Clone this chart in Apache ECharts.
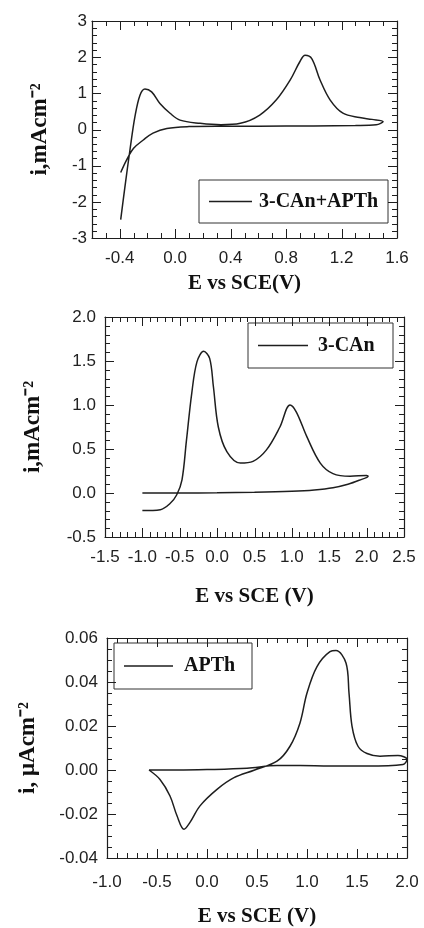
<!DOCTYPE html>
<html>
<head>
<meta charset="utf-8">
<script src="https://cdn.jsdelivr.net/npm/echarts@6/dist/echarts.min.js"></script>
<style>
  html, body { margin: 0; padding: 0; background: #fff; }
  #main { width: 424px; height: 928px; }
</style>
</head>
<body>
<div id="main"></div>
<script>
// 3-CAn+APTh 循环伏安曲线 (E / V, i / mA cm^-2)
var mixE = [-0.393, -0.362, -0.326, -0.29, -0.254, -0.218, -0.17, -0.11, -0.037, 0.035, 0.18, 0.33, 0.47, 0.61, 0.73, 0.83, 0.90, 0.937, 0.985, 1.045, 1.117, 1.21, 1.33, 1.42, 1.50,
            1.45, 1.30, 1.0, 0.6, 0.3, 0.1, -0.06, -0.16, -0.23, -0.30, -0.35, -0.393];
var mixI = [-2.49, -1.57, -0.56, 0.36, 0.95, 1.12, 1.04, 0.72, 0.45, 0.26, 0.17, 0.13, 0.17, 0.40, 0.82, 1.37, 1.88, 2.05, 1.96, 1.37, 0.82, 0.45, 0.33, 0.28, 0.22,
            0.13, 0.11, 0.10, 0.09, 0.09, 0.08, 0.03, -0.10, -0.29, -0.52, -0.84, -1.19];

// 3-CAn
var canE = [-1.0, -0.76, -0.63, -0.54, -0.47, -0.41, -0.34, -0.27, -0.18, -0.10, -0.05, 0.016, 0.13, 0.31, 0.48, 0.66, 0.84, 0.975, 1.06, 1.2, 1.38, 1.55, 1.78, 2.0,
            2.02, 1.9, 1.75, 1.55, 1.3, 1.0, 0.5, 0.0, -0.5, -1.0];
var canI = [-0.20, -0.19, -0.12, -0.02, 0.15, 0.60, 1.13, 1.49, 1.61, 1.53, 1.21, 0.75, 0.47, 0.34, 0.36, 0.49, 0.75, 1.0, 0.92, 0.64, 0.34, 0.22, 0.19, 0.20,
            0.19, 0.145, 0.10, 0.06, 0.035, 0.02, 0.008, 0.002, 0.0, 0.0];

// APTh (E / V, i / uA cm^-2)
var apE = [-0.58, -0.47, -0.37, -0.30, -0.23, -0.17, -0.07, 0.10, 0.27, 0.47, 0.70, 0.83, 0.93, 1.0, 1.1, 1.23, 1.29, 1.39, 1.42, 1.45, 1.51, 1.60, 1.73, 1.91, 2.0,
           1.96, 1.6, 1.23, 0.93, 0.7, 0.4, 0.0, -0.3, -0.58];
var apI = [0.0, -0.0043, -0.0118, -0.0208, -0.0269, -0.0238, -0.0163, -0.0088, -0.0035, -0.0001, 0.0040, 0.0108, 0.0214, 0.035, 0.047, 0.0538, 0.0543, 0.0486, 0.035, 0.020, 0.0108, 0.0075, 0.0063, 0.0066, 0.0048,
           0.0025, 0.0018, 0.0018, 0.002, 0.002, 0.0008, 0.0002, 0.0, 0.0];

var legendNames = ['3-CAn+APTh', '3-CAn', 'APTh'];

function pairs(xs, ys) {
    var out = [];
    for (var i = 0; i < xs.length; i++) out.push([xs[i], ys[i]]);
    return out;
}

// 刻度值 (不含边框两端)
function steps(min, max, step) {
    var out = [];
    var a = Math.round(min / step), b = Math.round(max / step);
    for (var k = a; k <= b; k++) {
        var v = +(k * step).toFixed(6);
        if (Math.abs(v - min) > step / 100 && Math.abs(v - max) > step / 100) out.push(v);
    }
    return out;
}

var ink = '#1e1e1e';
var tickFont = { fontFamily: 'Liberation Sans', fontSize: 17, color: '#222' };

function base(g, min, max, interval, extra) {
    return Object.assign({
        type: 'value', gridIndex: g, min: min, max: max, interval: interval,
        axisLine: { show: true, onZero: false, lineStyle: { color: ink, width: 1.2 } },
        axisTick: { show: false },
        minorTick: { show: false },
        splitLine: { show: false },
        minorSplitLine: { show: false }
    }, extra);
}

function xName(name, gap) {
    return {
        name: name, nameLocation: 'middle', nameGap: gap,
        nameTextStyle: { fontFamily: 'Liberation Serif', fontWeight: 'bold', fontSize: 21, color: '#111' }
    };
}
function yName(name, gap) {
    return {
        name: name, nameLocation: 'middle', nameGap: gap, nameRotate: 90,
        nameTextStyle: { fontFamily: 'Liberation Serif', fontWeight: 'bold', fontSize: 23, color: '#111' }
    };
}
function labels(margin, fmt) {
    return { axisLabel: Object.assign({ show: true, margin: margin, formatter: fmt }, tickFont) };
}
var noLabel = { axisLabel: { show: false } };

var fmt04 = function (v) {
    var k = Math.round(v * 10);
    return (k % 4 === 0) ? (k / 10).toFixed(1) : '';
};
var fmt1 = function (v) { return v.toFixed(1); };
var fmt2 = function (v) { return v.toFixed(2); };

var xAxes = [
    base(0, -0.6, 1.6, 0.2, Object.assign({ position: 'bottom' }, xName('E vs SCE(V)', 35), labels(12, fmt04))),
    base(0, -0.6, 1.6, 0.2, Object.assign({ position: 'top' }, noLabel)),
    base(1, -1.5, 2.5, 0.5, Object.assign({ position: 'bottom' }, xName('E vs SCE (V)', 49), labels(12, fmt1))),
    base(1, -1.5, 2.5, 0.5, Object.assign({ position: 'top' }, noLabel)),
    base(2, -1.0, 2.0, 0.5, Object.assign({ position: 'bottom' }, xName('E vs SCE (V)', 48), labels(16, fmt1))),
    base(2, -1.0, 2.0, 0.5, Object.assign({ position: 'top' }, noLabel))
];
var yAxes = [
    base(0, -3, 3, 1, Object.assign({ position: 'left' }, yName('i,mAcm\u207b\u00b2', 40), labels(5, function (v) { return String(v); }))),
    base(0, -3, 3, 1, Object.assign({ position: 'right' }, noLabel)),
    base(1, -0.5, 2.0, 0.5, Object.assign({ position: 'left' }, yName('i,mAcm\u207b\u00b2', 60), labels(9, fmt1))),
    base(1, -0.5, 2.0, 0.5, Object.assign({ position: 'right' }, noLabel)),
    base(2, -0.04, 0.06, 0.02, Object.assign({ position: 'left' }, yName('i, \u03bcAcm\u207b\u00b2', 67), labels(9, fmt2))),
    base(2, -0.04, 0.06, 0.02, Object.assign({ position: 'right' }, noLabel))
];

// 四边向内的刻度, 通过坐标轴比例尺换算
function tickSeries(xi, yi, xMaj, xMin, yMaj, yMin) {
    return {
        type: 'custom', xAxisIndex: xi, yAxisIndex: yi, silent: true, clip: false, z: 3,
        data: [[xMaj[0], yMaj[0]]],
        renderItem: function (params, api) {
            var cs = params.coordSys;
            var L = cs.x, T = cs.y, R = cs.x + cs.width, B = cs.y + cs.height;
            var kids = [];
            function add(x1, y1, x2, y2) {
                kids.push({ type: 'line', shape: { x1: x1, y1: y1, x2: x2, y2: y2 }, style: { stroke: ink, lineWidth: 1 } });
            }
            function xt(vals, len) {
                vals.forEach(function (v) {
                    var p = Math.round(api.coord([v, yMaj[0]])[0]) + 0.5;
                    add(p, B, p, B - len); add(p, T, p, T + len);
                });
            }
            function yt(vals, len) {
                vals.forEach(function (v) {
                    var p = Math.round(api.coord([xMaj[0], v])[1]) + 0.5;
                    add(L, p, L + len, p); add(R, p, R - len, p);
                });
            }
            xt(xMin, 5); xt(xMaj, 9); yt(yMin, 5); yt(yMaj, 9);
            return { type: 'group', children: kids };
        }
    };
}

// 图例框
function legendBox(name, x, y, w, h, lineW, textX) {
    return {
        type: 'group', children: [
            { type: 'rect', shape: { x: x, y: y, width: w, height: h }, style: { fill: '#fff', stroke: '#333', lineWidth: 1 } },
            { type: 'line', shape: { x1: x + 10, y1: y + h / 2, x2: x + 10 + lineW, y2: y + h / 2 }, style: { stroke: ink, lineWidth: 1.5 } },
            { type: 'text', x: textX, y: y + h / 2, style: { text: name, fill: '#111', font: 'bold 20px "Liberation Serif"', verticalAlign: 'middle', align: 'left' } }
        ]
    };
}

var myChart = echarts.init(document.getElementById('main'));
var option = {
    animation: false,
    grid: [
        { left: 92, top: 21, width: 305, height: 217 },
        { left: 105, top: 317, width: 299, height: 220 },
        { left: 107, top: 638, width: 300, height: 221 }
    ],
    xAxis: xAxes,
    yAxis: yAxes,
    graphic: [
        legendBox(legendNames[0], 199, 180, 189, 43, 43, 259),
        legendBox(legendNames[1], 248, 323, 145, 45, 50, 318),
        legendBox(legendNames[2], 114, 643, 138, 46, 49, 184)
    ],
    series: [
        { type: 'line', xAxisIndex: 0, yAxisIndex: 0, data: pairs(mixE, mixI),
          symbol: 'none', smooth: 0.35, lineStyle: { color: ink, width: 1.5 } },
        { type: 'line', xAxisIndex: 2, yAxisIndex: 2, data: pairs(canE, canI),
          symbol: 'none', smooth: 0.35, lineStyle: { color: ink, width: 1.5 } },
        { type: 'line', xAxisIndex: 4, yAxisIndex: 4, data: pairs(apE, apI),
          symbol: 'none', smooth: 0.35, lineStyle: { color: ink, width: 1.5 } },
        tickSeries(0, 0, steps(-0.6, 1.6, 0.4).filter(function (v) { return Math.abs(Math.round(v * 10) % 4) === 0; }),
                   steps(-0.6, 1.6, 0.1), steps(-3, 3, 1), steps(-3, 3, 0.2)),
        tickSeries(2, 2, steps(-1.5, 2.5, 0.5), steps(-1.5, 2.5, 0.1), steps(-0.5, 2.0, 0.5), steps(-0.5, 2.0, 0.1)),
        tickSeries(4, 4, steps(-1.0, 2.0, 0.5), steps(-1.0, 2.0, 0.1), steps(-0.04, 0.06, 0.02), steps(-0.04, 0.06, 0.005))
    ]
};

myChart.setOption(option);
</script>
</body>
</html>
